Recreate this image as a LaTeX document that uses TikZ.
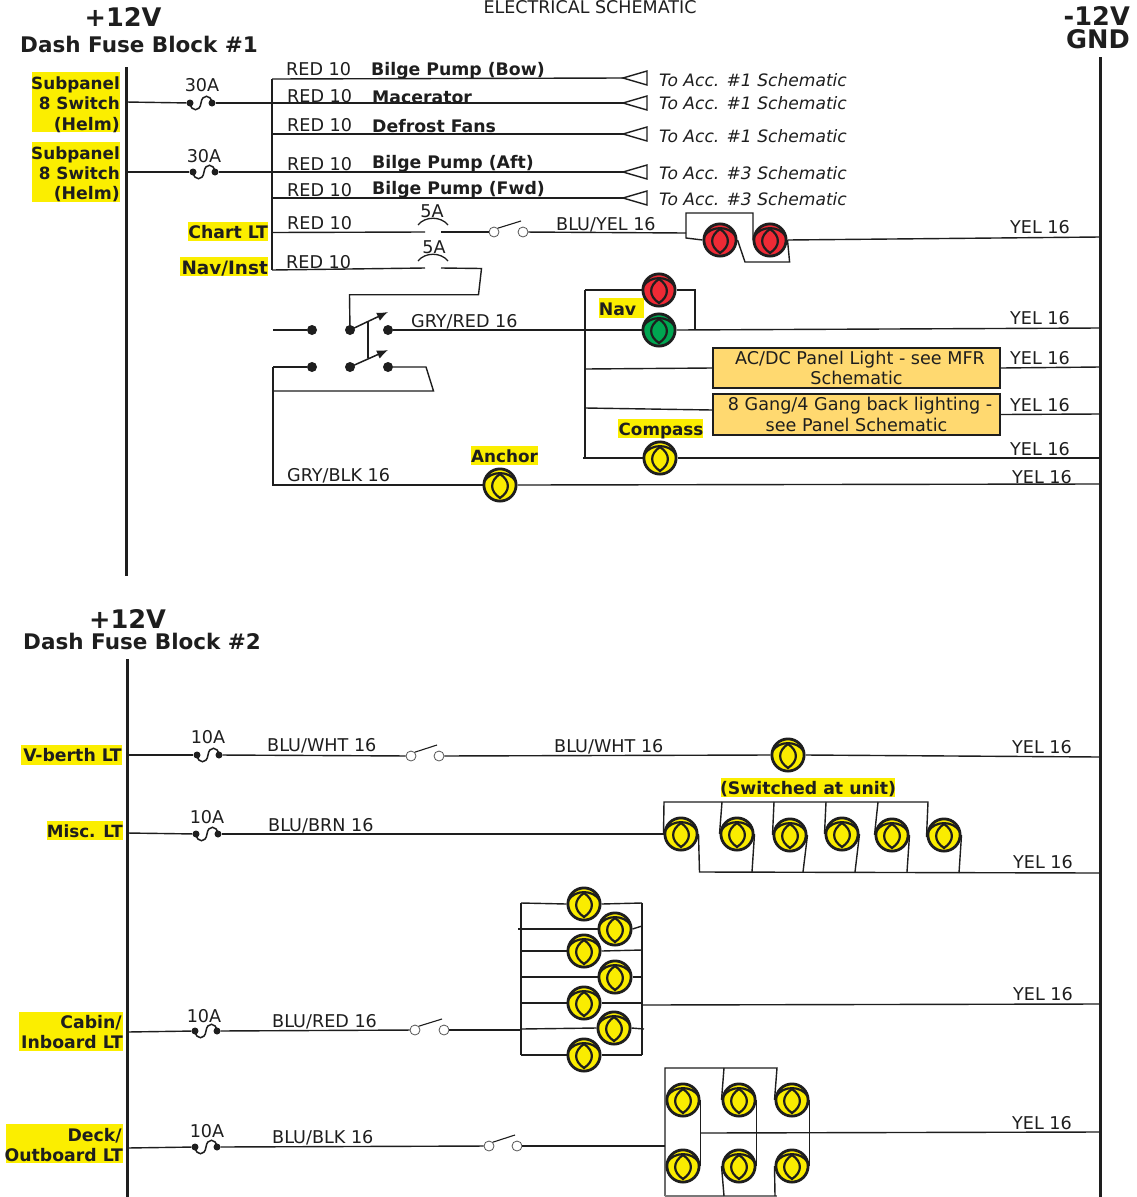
\documentclass[tikz,border=0pt]{standalone}
\usepackage{fontspec}
\setmainfont{DejaVu Sans}
\usetikzlibrary{arrows.meta,calc}
\definecolor{ink}{HTML}{1E1E1E}
\definecolor{hl}{HTML}{FBEE00}
\definecolor{panelc}{HTML}{FFD970}
\definecolor{lred}{HTML}{EE2A35}
\definecolor{lgreen}{HTML}{00A651}
\definecolor{lyel}{HTML}{FAEC00}
\tikzset{
 x=1pt,y=-1pt,
 wire/.style={draw=ink,line width=1.4pt,line join=miter},
 bus/.style={draw=ink,line width=3pt},
 lampnode/.style={circle,draw=ink,line width=2.8pt,minimum size=32.2pt,inner sep=0pt},
 dotnode/.style={circle,fill=ink,inner sep=0pt,minimum size=#1},
 swnode/.style={circle,draw=ink!75,line width=.8pt,fill=white,inner sep=0pt,minimum size=10pt},
 txt/.style={inner sep=0pt,text=ink,font=\fontsize{17.6}{20}\selectfont,text height=16pt,text depth=3pt},
 btxt/.style={txt,font=\fontsize{17.3}{20}\bfseries\selectfont},
 stxt/.style={txt,font=\fontsize{16.8}{20}\bfseries\selectfont},
 itxt/.style={txt,font=\fontsize{17.1}{20}\itshape\selectfont},
 head/.style={inner sep=0pt,text=ink,font=\fontsize{21.5}{24}\bfseries\selectfont},
 volt/.style={inner sep=0pt,text=ink,font=\fontsize{25.6}{28}\bfseries\selectfont},
 panelbox/.style={draw=ink,line width=1.5pt,fill=panelc,inner sep=0pt,align=center,text=ink,font=\fontsize{17.6}{20.5}\selectfont},
 tri/.style={draw=ink,line width=1.4pt,fill=white,line join=miter},
 swarm/.style={-{Latex[length=11pt,width=9pt]},draw=ink,line width=1.5pt},
}
% lamp: name, x, y, colour
\newcommand{\mylamp}[4]{%
 \node[lampnode,fill=#4] (#1) at (#2,#3) {};
 \begin{scope}[shift={(#2,#3)}]
  \draw[ink,line width=2.2pt] (-15.5,-4) .. controls (-9,-14.5) and (9,-14.5) .. (15.5,-4);
  \draw[ink,line width=2.2pt] (0,-11) .. controls (-10.5,-4) and (-10.5,6) .. (0,13) .. controls (10.5,6) and (10.5,-4) .. (0,-11);
 \end{scope}}
% fuse with dots: name, x of left dot, y
\newcommand{\myfuse}[3]{%
 \node[dotnode=7pt] (#1L) at (#2,#3) {};
 \node[dotnode=7pt] (#1R) at ($(#2,#3)+(22,0)$) {};
 \draw[ink,line width=1.5pt] (#1L.center) .. controls +(1,9) and +(-1,9) .. ($(#1L)+(11,0)$) .. controls +(1,-9) and +(-1,-9) .. (#1R.center);}
% 5A fuse arc: name, centre x, y of wire
\newcommand{\myarc}[3]{%
 \coordinate (#1L) at ($(#2,#3)+(-8,0)$);
 \coordinate (#1R) at ($(#2,#3)+(8,0)$);
 \draw[ink,line width=1.3pt] ($(#2,#3)+(-15,-7)$) .. controls +(7,-9) and +(-7,-9) .. ($(#2,#3)+(15,-7)$);}
% switch: name, xl, xr, y
\newcommand{\mysw}[4]{%
 \node[swnode] (#1L) at (#2,#4) {};
 \node[swnode] (#1R) at (#3,#4) {};
 \draw[ink,line width=1.1pt] (#1L.north east) -- ($(#3,#4)+(-2,-11)$);}
\newcommand{\tri}[3]{%
 \draw[tri] (#2,#3) -- +(24,-7) -- +(24,7) -- cycle;
 \coordinate (#1) at (#2,#3);}
\begin{document}
\begin{tikzpicture}
\useasboundingbox[fill=white] (0,0) rectangle (1136,1197);
% highlights
\fill[hl] (32,72) rectangle (120,132);
\fill[hl] (32,142) rectangle (120,202);
\fill[hl] (188,222) rectangle (268,241);
\fill[hl] (180,257) rectangle (268,276);
\fill[hl] (599,298) rectangle (644,318);
\fill[hl] (618,419) rectangle (703,438);
\fill[hl] (471,446) rectangle (538,465);
\fill[hl] (21,745) rectangle (122,765);
\fill[hl] (47,821) rectangle (123,840);
\fill[hl] (721,778) rectangle (895,797);
\fill[hl] (19,1012) rectangle (123,1051);
\fill[hl] (6,1124) rectangle (123,1163);
% buses
\coordinate (busAt) at (126,67); \coordinate (busAb) at (126,576);
\coordinate (busBt) at (127,659); \coordinate (busBb) at (127,1197);
\coordinate (gndt) at (1100,57); \coordinate (gndb) at (1100,1197);
\draw[bus] (busAt) -- (busAb);
\draw[bus] (busBt) -- (busBb);
\draw[bus] (gndt) -- (gndb);
% lamps
\mylamp{rA}{720}{240}{lred}
\mylamp{rB}{770}{240}{lred}
\mylamp{navR}{659}{290}{lred}
\mylamp{navG}{659}{330}{lgreen}
\mylamp{comp}{660}{458}{lyel}
\mylamp{anch}{500}{485}{lyel}
\mylamp{vb}{788}{755}{lyel}
\mylamp{mA}{681}{834}{lyel}
\mylamp{mB}{737}{834}{lyel}
\mylamp{mC}{790}{835}{lyel}
\mylamp{mD}{842}{834}{lyel}
\mylamp{mE}{892}{835}{lyel}
\mylamp{mF}{944}{835}{lyel}
\mylamp{cA}{584}{904}{lyel}
\mylamp{cB}{615}{929}{lyel}
\mylamp{cC}{584}{951}{lyel}
\mylamp{cD}{615}{977}{lyel}
\mylamp{cE}{584}{1003}{lyel}
\mylamp{cF}{614}{1028}{lyel}
\mylamp{cG}{584}{1055}{lyel}
\mylamp{dA}{683}{1100}{lyel}
\mylamp{dB}{739}{1100}{lyel}
\mylamp{dC}{792}{1100}{lyel}
\mylamp{dD}{683}{1166}{lyel}
\mylamp{dE}{739}{1166}{lyel}
\mylamp{dF}{792}{1166}{lyel}
% fuses
\myfuse{fa}{190}{103}
\myfuse{fb}{193}{172}
\myfuse{fc}{197}{755}
\myfuse{fd}{196}{834}
\myfuse{fe}{195}{1031}
\myfuse{ff}{195}{1147}
\myarc{fg}{433}{232}
\myarc{fh}{433}{268}
% switches
\mysw{sa}{494}{523}{232}
\mysw{sb}{411}{439}{756}
\mysw{sc}{415}{444}{1030}
\mysw{sd}{489}{517}{1146}
% arrows toward schematics
\tri{ta}{623}{78}
\tri{tb}{623}{103}
\tri{tc}{623}{134}
\tri{td}{623}{172}
\tri{te}{623}{198}
% panels
\node[panelbox,minimum width=287pt,minimum height=40pt] (pa) at (856.5,368) {\hspace*{7pt}AC/DC Panel Light - see MFR\\Schematic};
\node[panelbox,minimum width=287pt,minimum height=41pt] (pb) at (856.5,414.5) {\hspace*{7pt}8 Gang/4 Gang back lighting -\\see Panel Schematic};
% selector switch terminals
\node[dotnode=10pt] (s1) at (312,330) {};
\node[dotnode=10pt] (s2) at (350,330) {};
\node[dotnode=10pt] (s3) at (388,330) {};
\node[dotnode=10pt] (s4) at (312,367) {};
\node[dotnode=10pt] (s5) at (350,367) {};
\node[dotnode=10pt] (s6) at (388,367) {};
\coordinate (s2tip) at (388,312);
\coordinate (s5tip) at (388,350);
\coordinate (linkT) at (368,321);
\coordinate (linkB) at (368,358);
\draw[swarm] (s2.center) -- (s2tip);
\draw[swarm] (s5.center) -- (s5tip);
\draw[wire] (linkT) -- (linkB);
% upper block wiring
\coordinate (v1) at (272,79); \coordinate (v2) at (272,270);
\draw[wire] (v1) -- (v2);
\draw[wire] (v1) -- (ta);
\draw[wire] (busAt |- 0,102) -- (faL);
\draw[wire] (faR) -- (tb);
\draw[wire] (272,134) -- (tc);
\draw[wire] (busAt |- 0,172) -- (fbL);
\draw[wire] (fbR) -- (td);
\draw[wire] (272,198) -- (te);
\draw[wire] (272,232.5) -- (fgL);
\draw[wire] (fgR) -- (saL);
\coordinate (rb1) at (686,233); \coordinate (rb2) at (686,213); \coordinate (rb3) at (753,213);
\coordinate (rb4) at (686,238);
\draw[wire] (saR) -- (rb1);
\draw[wire] (rA.west) -- (rb4) -- (rb2) -- (rb3) |- (rB.west);
\coordinate (rb5) at (745,262); \coordinate (rb6) at (789.6,262);
\draw[wire] (rA.east) -- (rb5) -- (rb6) -- (rB.east);
\coordinate (g1) at (1100,237);
\draw[wire] (rB.east) -- (g1);
\draw[wire] (v2) -- (fhL);
\coordinate (n1) at (481.5,268.5); \coordinate (n2) at (478.5,294.7); \coordinate (n3) at (349.5,294.7);
\draw[wire] (fhR) -- (n1) -- (n2) -- (n3) -- (s2.center);
\coordinate (s0a) at (273,330); \coordinate (s0b) at (273,367);
\coordinate (s0c) at (426,367); \coordinate (s0d) at (433.5,391); \coordinate (s0e) at (273,391);
\coordinate (s0f) at (273,485);
\draw[wire] (s0a) -- (s1);
\draw[wire] (s0b) -- (s4);
\draw[wire] (s6) -- (s0c) -- (s0d) -- (s0e);
\draw[wire] (s0b) -- (s0f) -- (anch.west);
\coordinate (g2) at (1100,484);
\draw[wire] (anch.east) -- (g2);
\draw[wire] (s3) -- (navG.west);
\coordinate (nv1) at (585,290); \coordinate (nv2) at (585,458); \coordinate (nv3) at (695,290); \coordinate (nv4) at (695,330);
\coordinate (g3) at (1100,328);
\draw[wire] (nv1) -- (nv2);
\draw[wire] (nv1) -- (navR.west);
\draw[wire] (navR.east) -- (nv3) -- (nv4);
\draw[wire] (navG.east) -- (g3);
\coordinate (nv5) at (585,369); \coordinate (nv6) at (585,408);
\draw[wire] (nv5) -- (pa.west);
\draw[wire] (nv6) -- (pb.west |- 0,410);
\coordinate (g4) at (1100,367); \coordinate (g5) at (1100,414); \coordinate (g6) at (1100,458);
\draw[wire] (pa.east) -- (g4);
\draw[wire] (pb.east) -- (g5);
\draw[wire] (583,458) -- (comp.west);
\draw[wire] (comp.east) -- (g6);
% lower block: V-berth
\draw[wire] (busBt |- 0,755) -- (fcL);
\draw[wire] (fcR) -- (sbL);
\draw[wire] (sbR) -- (vb.west);
\coordinate (g7) at (1100,757);
\draw[wire] (vb.east) -- (g7);
% Misc
\coordinate (mt0) at (664,802); \coordinate (mt1) at (928,802);
\coordinate (mb0) at (699.5,872); \coordinate (g8) at (1100,873);
\draw[wire] (busBt |- 0,833) -- (fdL);
\draw[wire] (fdR) -- (mA.west);
\draw[wire] (mA.west) -- (mt0) -- (mt1) -- (mF.west |- 0,837);
\draw[wire] (722,802) -- (mB.west);
\draw[wire] (774,802) -- (mC.west);
\draw[wire] (826,802) -- (mD.west);
\draw[wire] (878,802) -- (mE.west);
\draw[wire] (mA.east) -- (mb0) -- (g8);
\draw[wire] (752,872) -- (mB.east);
\draw[wire] (803,872) -- (mC.east);
\draw[wire] (855,872) -- (mD.east);
\draw[wire] (907,872) -- (mE.east);
\draw[wire] (959,873) -- (mF.east);
% Cabin
\coordinate (cl0) at (521,903); \coordinate (cl1) at (521,1055);
\coordinate (cr0) at (642,903); \coordinate (cr1) at (642,1055);
\coordinate (g9) at (1100,1004);
\draw[wire] (cl0) -- (cl1);
\draw[wire] (cr0) -- (cr1);
\draw[wire] (cl0) -- (cA.west);
\draw[wire] (cA.east) -- (cr0);
\draw[wire] (518,929) -- (cB.west);
\draw[wire] (cB.east) -- (642,926);
\draw[wire] (521,951) -- (cC.west);
\draw[wire] (cC.east) -- (642,950);
\draw[wire] (521,977) -- (cD.west);
\draw[wire] (cD.east) -- (642,977);
\draw[wire] (521,1003) -- (cE.west);
\draw[wire] (cE.east) -- (642,1003);
\draw[wire] (521,1029) -- (cF.west);
\draw[wire] (cF.east) -- (644,1029);
\draw[wire] (cl1) -- (cG.west);
\draw[wire] (cG.east) -- (cr1);
\draw[wire] (642,1005) -- (g9);
\draw[wire] (busBt |- 0,1032) -- (feL);
\draw[wire] (feR) -- (scL);
\draw[wire] (scR) -- (521,1030);
% Deck
\coordinate (dl0) at (665,1068); \coordinate (dl1) at (665,1196); \coordinate (dr0) at (777,1068); \coordinate (dr1) at (777,1196);
\coordinate (g10) at (1100,1132);
\draw[wire] (dl1) -- (dl0) -- (dr0) -- (dC.west);
\draw[wire] (724,1068) -- (dB.west);
\draw[wire,ink!60] (dl1) -- (dr1);
\draw[wire] (dE.west) -- (724,1196);
\draw[wire] (dF.west) -- (775,1196);
\draw[wire] (dA.east) -- (dD.east);
\draw[wire] (dB.east) -- (dE.east);
\draw[wire] (dC.east) -- (dF.east);
\draw[wire] (701,1133) -- (g10);
\draw[wire] (busBt |- 0,1148) -- (ffL);
\draw[wire] (ffR) -- (sdL);
\draw[wire] (sdR) -- (665,1146);
% headings
\node[txt,anchor=center,font=\fontsize{17.5}{18}\selectfont] (title) at (590,7) {ELECTRICAL SCHEMATIC};
\node[volt] (va) at (123,17) {+12V};
\node[head,anchor=west] (ha) at (20,44) {Dash Fuse Block \#1};
\node[volt,anchor=east] (vn) at (1130,16) {-12V};
\node[volt,anchor=east] (gnd) at (1130,39) {GND};
\node[volt] (vb2) at (127.5,619) {+12V};
\node[head,anchor=west] (hb) at (23,641) {Dash Fuse Block \#2};
% bold labels
\node[stxt,anchor=east] (l1) at (120,83) {Subpanel};
\node[stxt,anchor=east] (l2) at (120,103) {8 Switch};
\node[btxt,anchor=east] (l3) at (120,124) {(Helm)};
\node[stxt,anchor=east] (l4) at (120,153) {Subpanel};
\node[stxt,anchor=east] (l5) at (120,173) {8 Switch};
\node[btxt,anchor=east] (l6) at (120,193) {(Helm)};
\node[btxt,anchor=east] (l7) at (268,232) {Chart LT};
\node[btxt,anchor=east,font=\fontsize{18.4}{20}\bfseries\selectfont] (l8) at (268,268) {Nav/Inst};
\node[btxt] (l9) at (617.5,309) {Nav};
\node[stxt] (l10) at (661,429) {Compass};
\node[stxt] (l11) at (504.5,456) {Anchor};
\node[btxt,anchor=east] (l12) at (122,755) {V-berth LT};
\node[stxt,anchor=east] (l13) at (123,831) {Misc. LT};
\node[btxt] (l14) at (808,788) {(Switched at unit)};
\node[btxt,anchor=east] (l15) at (122,1022) {Cabin/};
\node[btxt,anchor=east] (l16) at (123,1042) {Inboard LT};
\node[btxt,anchor=east] (l17) at (122,1135) {Deck/};
\node[btxt,anchor=east] (l18) at (123,1155) {Outboard LT};
\node[btxt,anchor=west] (b1) at (371,69) {Bilge Pump (Bow)};
\node[btxt,anchor=west] (b2) at (372,97) {Macerator};
\node[btxt,anchor=west] (b3) at (372,126) {Defrost Fans};
\node[btxt,anchor=west] (b4) at (372,162) {Bilge Pump (Aft)};
\node[btxt,anchor=west] (b5) at (372,188) {Bilge Pump (Fwd)};
% wire labels
\node[txt,anchor=west] (r1) at (286,69) {RED 10};
\node[txt,anchor=west] (r2) at (287,96) {RED 10};
\node[txt,anchor=west] (r3) at (287,125) {RED 10};
\node[txt,anchor=west] (r4) at (287,164) {RED 10};
\node[txt,anchor=west] (r5) at (287,190) {RED 10};
\node[txt,anchor=west] (r6) at (287,223) {RED 10};
\node[txt,anchor=west] (r7) at (286,262) {RED 10};
\node[itxt,anchor=west] (t1) at (659,80) {To Acc. \#1 Schematic};
\node[itxt,anchor=west] (t2) at (659,103) {To Acc. \#1 Schematic};
\node[itxt,anchor=west] (t3) at (659,136) {To Acc. \#1 Schematic};
\node[itxt,anchor=west] (t4) at (659,173) {To Acc. \#3 Schematic};
\node[itxt,anchor=west] (t5) at (659,199) {To Acc. \#3 Schematic};
\node[txt,anchor=west] (w1) at (556,224) {BLU/YEL 16};
\node[txt,anchor=west] (w2) at (411,321) {GRY/RED 16};
\node[txt,anchor=west] (w3) at (287,475) {GRY/BLK 16};
\node[txt,anchor=west] (w4) at (267,745) {BLU/WHT 16};
\node[txt,anchor=west] (w5) at (554,746) {BLU/WHT 16};
\node[txt,anchor=west] (w6) at (268,825) {BLU/BRN 16};
\node[txt,anchor=west] (w7) at (272,1021) {BLU/RED 16};
\node[txt,anchor=west] (w8) at (272,1137) {BLU/BLK 16};
\node[txt] (a1) at (202,85) {30A};
\node[txt] (a2) at (204,156) {30A};
\node[txt] (a3) at (432,211) {5A};
\node[txt] (a4) at (434,247) {5A};
\node[txt] (a5) at (208,737) {10A};
\node[txt] (a6) at (207,817) {10A};
\node[txt] (a7) at (204,1016) {10A};
\node[txt] (a8) at (207,1131) {10A};
\node[txt,anchor=west] (y1) at (1010,227) {YEL 16};
\node[txt,anchor=west] (y2) at (1010,318) {YEL 16};
\node[txt,anchor=west] (y3) at (1010,358) {YEL 16};
\node[txt,anchor=west] (y4) at (1010,405) {YEL 16};
\node[txt,anchor=west] (y5) at (1010,449) {YEL 16};
\node[txt,anchor=west] (y6) at (1012,477) {YEL 16};
\node[txt,anchor=west] (y7) at (1012,747) {YEL 16};
\node[txt,anchor=west] (y8) at (1013,862) {YEL 16};
\node[txt,anchor=west] (y9) at (1013,994) {YEL 16};
\node[txt,anchor=west] (y10) at (1012,1123) {YEL 16};
\end{tikzpicture}
\end{document}
